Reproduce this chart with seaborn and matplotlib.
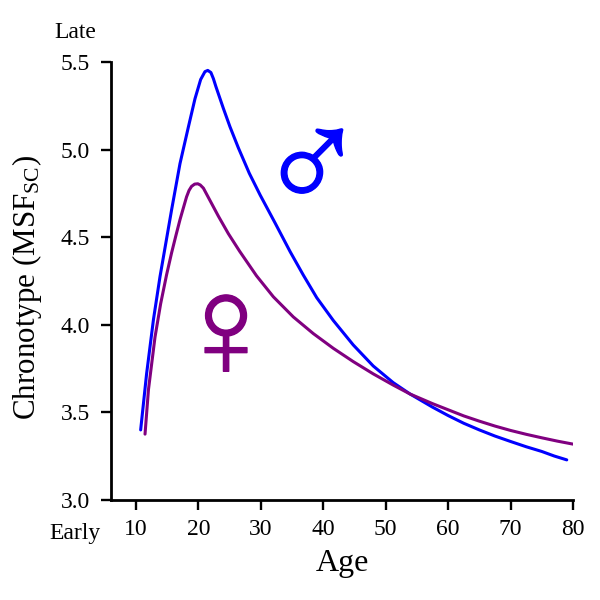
import pandas as pd
import matplotlib.pyplot as plt
import matplotlib.patheffects as pe
import seaborn as sns

male_age = [10.75, 11.7, 12.8, 13.85, 14.8, 15.7, 17.05, 18.4, 19.45, 20.36, 21.05, 21.5, 22.0, 22.4, 22.8,
            24.0, 25.06, 26.4, 28.15, 29.9, 32.3, 34.7, 36.8, 38.95, 41.6, 44.8, 48.0, 51.2, 53.9,
            57.5, 60, 62.5, 65, 67.5, 70, 72.5, 75, 77, 79]
male_val = [3.40, 3.72, 4.03, 4.275, 4.47, 4.655, 4.92, 5.13, 5.29, 5.40, 5.445, 5.452, 5.44, 5.405, 5.36,
            5.235, 5.13, 5.01, 4.865, 4.74, 4.58, 4.417, 4.284, 4.155, 4.025, 3.885, 3.765, 3.67, 3.605,
            3.53, 3.482, 3.438, 3.40, 3.365, 3.334, 3.304, 3.277, 3.251, 3.229]
female_age = [11.45, 12.0, 13.05, 13.95, 14.9, 15.7, 16.4, 17.05, 18.1, 18.5, 18.9, 19.4, 19.9, 20.3, 20.8, 21.85, 23.2,
              24.8, 26.6, 29.3, 32.0, 35.2, 38.4, 41.6, 44.8, 48.0, 51.2, 53.9,
              57.5, 60, 62.5, 65, 67.5, 70, 72.5, 75, 77.5, 80]
female_val = [3.376, 3.63, 3.93, 4.12, 4.285, 4.41, 4.51, 4.60, 4.73, 4.767, 4.79, 4.803, 4.805, 4.798, 4.78, 4.71, 4.62,
              4.52, 4.42, 4.28, 4.16, 4.045, 3.95, 3.866, 3.79, 3.72, 3.656, 3.605,
              3.55, 3.515, 3.48, 3.45, 3.422, 3.397, 3.375, 3.355, 3.336, 3.319]
x_ticks = [10, 20, 30, 40, 50, 60, 70, 80]
y_ticks = [3.0, 3.5, 4.0, 4.5, 5.0, 5.5]

male = pd.DataFrame({'age': male_age, 'chronotype': male_val})
female = pd.DataFrame({'age': female_age, 'chronotype': female_val})

sns.set_style('ticks')
plt.rcParams['font.family'] = ['Liberation Serif', 'DejaVu Serif']
plt.rcParams['mathtext.default'] = 'regular'
plt.rcParams['text.color'] = 'black'

fig = plt.figure(figsize=(6, 6), dpi=100)
ax = fig.add_axes([111 / 600, 1 - 500 / 600, (573 - 111) / 600, (500 - 62) / 600])
sns.lineplot(male, x='age', y='chronotype', color='#0000ff', linewidth=2.2, ax=ax, sort=False)
sns.lineplot(female, x='age', y='chronotype', color='#800080', linewidth=2.2, ax=ax, sort=False)

ax.set_xlim(6, 80)
ax.set_ylim(3.0, 5.5)
ax.set_xticks(x_ticks)
ax.set_yticks(y_ticks)
ax.set_yticklabels(['%.1f' % v for v in y_ticks])
ax.tick_params(length=7.5, width=1.7, labelsize=17, color='black', labelcolor='black')
ax.tick_params(axis='x', pad=6)
ax.tick_params(axis='y', pad=7.5)
sns.despine(ax=ax)
for s in ['left', 'bottom']:
    ax.spines[s].set_linewidth(2.0)
    ax.spines[s].set_color('black')

ax.set_xlabel('Age', fontsize=23, color='black')
ax.set_ylabel('Chronotype (MSF$_{SC}$)', fontsize=22.3, color='black')
ax.xaxis.set_label_coords(0.5, -0.111)
ax.yaxis.set_label_coords(-0.145, 0.486)

fig.text(75 / 600, 1 - 33 / 600, 'Late', fontsize=17, ha='center', va='center', color='black')
fig.text(75 / 600, 1 - 533 / 600, 'Early', fontsize=17, ha='center', va='center', color='black')

male_sign = fig.text(312 / 600, 1 - 173 / 600, '\u2642', fontsize=105, color='#0000ff', ha='center', va='center',
                     family='Liberation Sans')
female_sign = fig.text(226 / 600, 1 - 339 / 600, '\u2640', fontsize=105, color='#800080', ha='center', va='center',
                       family='Liberation Sans')
male_sign.set_path_effects([pe.withStroke(linewidth=1.0, foreground='#0000ff')])
female_sign.set_path_effects([pe.withStroke(linewidth=1.0, foreground='#800080')])

fig.savefig('out.png', dpi=100)
